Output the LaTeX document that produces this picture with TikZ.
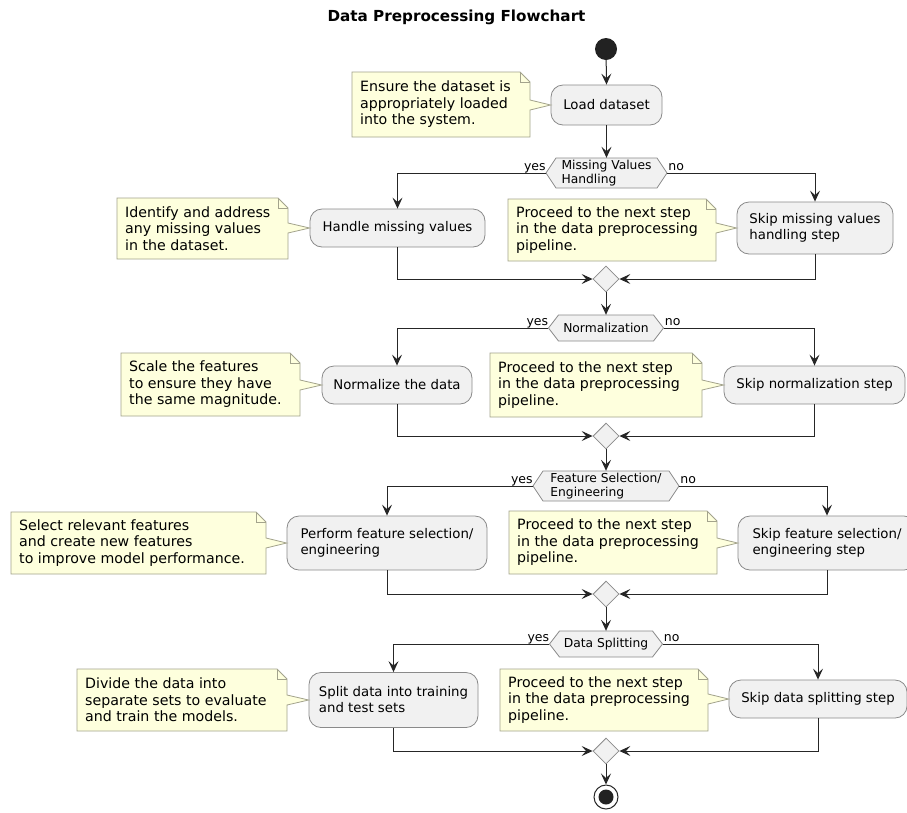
\documentclass[tikz,border=0pt]{standalone}
\usepackage{fontspec}
\setmainfont{DejaVu Sans}
\usetikzlibrary{arrows.meta,shapes.geometric,calc}

\definecolor{actfill}{HTML}{F1F1F1}
\definecolor{actdraw}{HTML}{8A8A8A}
\definecolor{notefill}{HTML}{FEFFDD}
\definecolor{notedraw}{HTML}{A3A38C}
\definecolor{linec}{HTML}{262626}
\definecolor{dotc}{HTML}{222222}

\tikzset{
 actbox/.style={draw=actdraw, line width=0.8pt, fill=actfill, rounded corners=12pt, inner sep=0pt, align=left, font=\fontsize{13.3}{16}\selectfont},
 hexlabel/.style={inner sep=0pt, align=left, font=\fontsize{12.3}{13.5}\selectfont},
 hexshape/.style={draw=actdraw, line width=0.8pt, fill=actfill},
 notetext/.style={inner sep=0pt, align=left, font=\fontsize{14.2}{16.5}\selectfont},
 noteshape/.style={draw=notedraw, line width=0.8pt, fill=notefill, line join=miter},
 mergebox/.style={diamond, aspect=1, draw=actdraw, fill=actfill, line width=0.8pt, minimum width=26pt, minimum height=26pt, inner sep=0pt},
 flowline/.style={draw=linec, line width=1pt, -{Stealth[length=11pt,width=10pt,inset=4.5pt]}},
 lbl/.style={inner sep=0pt, font=\fontsize{12.5}{14}\selectfont},
}

% name, x1, y1, x2, y2, target node, text
\newcommand{\notebox}[7]{%
 \path[noteshape] (#2,#3) -- ({#4-10},#3) -- (#4,{#3+10}) -- ($(#4,0 |- #6.west)+(0,-5)$) -- (#6.west) -- ($(#4,0 |- #6.west)+(0,5)$) -- (#4,#5) -- (#2,#5) -- cycle;
 \draw[notedraw, line width=0.8pt] ({#4-10},#3) -- ({#4-10},{#3+10}) -- (#4,{#3+10});
 \node[notetext, anchor=west] (#1) at ({#2+8},{(#3+#5)/2}) {#7};
}
% name, cx, cy, w, h, text
\newcommand{\hexnode}[6]{%
 \path[hexshape] ({#2-#4/2},#3) -- ({#2-#4/2+10},{#3-#5/2}) -- ({#2+#4/2-10},{#3-#5/2}) -- ({#2+#4/2},#3) -- ({#2+#4/2-10},{#3+#5/2}) -- ({#2-#4/2+10},{#3+#5/2}) -- cycle;
 \node[hexlabel, minimum width=#4pt, minimum height=#5pt] (#1) at (#2,#3) {#6};
}

\begin{document}
\begin{tikzpicture}[x=1pt, y=-1pt]
\useasboundingbox (0,0) rectangle (907,812);
\fill[white] (0,0) rectangle (907,812);

\node[font=\fontsize{15.2}{18}\selectfont\bfseries] (title) at (456.5,17) {Data Preprocessing Flowchart};

% start
\node[circle, fill=dotc, minimum size=22pt, inner sep=0pt] (startdot) at (606,49) {};
\node[actbox, minimum width=111pt, minimum height=40pt] (load) at (606.5,105) {Load dataset};
\notebox{n1}{352}{72}{530}{137}{load}{Ensure the dataset is\\appropriately loaded\\into the system.}

% decision 1
\hexnode{h1}{606.5}{173}{121}{30}{Missing Values\\Handling}
\node[actbox, minimum width=175pt, minimum height=38pt] (handle) at (397.5,228) {Handle missing values};
\node[actbox, minimum width=156pt, minimum height=52pt] (skip1) at (815,228) {Skip missing values\\handling step};
\notebox{n2}{117}{198}{288}{259}{handle}{Identify and address\\any missing values\\in the dataset.}
\notebox{n3}{508}{199}{716}{261}{skip1}{Proceed to the next step\\in the data preprocessing\\pipeline.}
\node[mergebox] (m1) at (606,279) {};

% decision 2
\hexnode{h2}{606}{328}{115}{26}{Normalization}
\node[actbox, minimum width=150pt, minimum height=38pt] (norm) at (397,385) {Normalize the data};
\node[actbox, minimum width=181pt, minimum height=38pt] (skip2) at (814.5,385) {Skip normalization step};
\notebox{n4}{121}{353}{300}{416}{norm}{Scale the features\\to ensure they have\\the same magnitude.}
\notebox{n5}{490}{353}{702}{417}{skip2}{Proceed to the next step\\in the data preprocessing\\pipeline.}
\node[mergebox] (m2) at (606,436) {};

% decision 3
\hexnode{h3}{606}{486}{146}{30}{Feature Selection/\\Engineering}
\node[actbox, minimum width=200pt, minimum height=54pt] (feat) at (387,543) {Perform feature selection/\\engineering};
\node[actbox, minimum width=178pt, minimum height=54pt] (skip3) at (827,543) {Skip feature selection/\\engineering step};
\notebox{n6}{11}{512}{266}{574}{feat}{Select relevant features\\and create new features\\to improve model performance.}
\notebox{n7}{509}{511}{717}{574}{skip3}{Proceed to the next step\\in the data preprocessing\\pipeline.}
\node[mergebox] (m3) at (606,594) {};

% decision 4
\hexnode{h4}{606}{644}{113}{26}{Data Splitting}
\node[actbox, minimum width=169pt, minimum height=55pt] (split) at (393.5,700) {Split data into training\\and test sets};
\node[actbox, minimum width=178pt, minimum height=38pt] (skip4) at (818,699) {Skip data splitting step};
\notebox{n8}{77}{669}{287}{731}{split}{Divide the data into\\separate sets to evaluate\\and train the models.}
\notebox{n9}{500}{669}{708}{731}{skip4}{Proceed to the next step\\in the data preprocessing\\pipeline.}
\node[mergebox] (m4) at (606,751) {};

% end
\node[circle, draw=linec, line width=1pt, fill=white, minimum size=24pt, inner sep=0pt] (stopdot) at (606,797) {};
\fill[dotc] (stopdot.center) circle (7.5pt);

% yes/no labels
\foreach \h in {h1,h2,h3,h4}{
  \node[lbl, anchor=base east] at ([yshift=2.5pt]\h.west) {yes};
  \node[lbl, anchor=base west] at ([xshift=1pt,yshift=2.5pt]\h.east) {no};
}

% connectors
\draw[flowline] (startdot) -- (load.north);
\draw[flowline] (load.south) -- (h1.north);
\draw[flowline] (h1.west) -| (handle.north);
\draw[flowline] (h1.east) -| (skip1.north);
\draw[flowline] (handle.south) |- (m1.west);
\draw[flowline] (skip1.south) |- (m1.east);
\draw[flowline] (m1.south) -- (h2.north);

\draw[flowline] (h2.west) -| (norm.north);
\draw[flowline] (h2.east) -| (skip2.north);
\draw[flowline] (norm.south) |- (m2.west);
\draw[flowline] (skip2.south) |- (m2.east);
\draw[flowline] (m2.south) -- (h3.north);

\draw[flowline] (h3.west) -| (feat.north);
\draw[flowline] (h3.east) -| (skip3.north);
\draw[flowline] (feat.south) |- (m3.west);
\draw[flowline] (skip3.south) |- (m3.east);
\draw[flowline] (m3.south) -- (h4.north);

\draw[flowline] (h4.west) -| (split.north);
\draw[flowline] (h4.east) -| (skip4.north);
\draw[flowline] (split.south) |- (m4.west);
\draw[flowline] (skip4.south) |- (m4.east);
\draw[flowline] (m4.south) -- (stopdot.north);
\end{tikzpicture}
\end{document}
